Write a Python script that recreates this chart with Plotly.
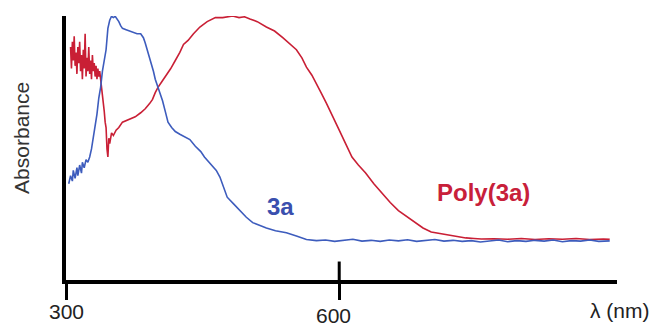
import plotly.graph_objects as go

# ---- data ----
wl_3a = [303, 305, 307, 308, 310, 312, 313, 315, 317, 318, 320, 322, 324, 326, 328, 330,
         332, 334, 336, 338, 340, 342, 344, 346, 348, 350, 352, 354, 356, 358, 360, 362,
         366, 370, 374, 378, 382, 385, 387, 390, 393, 396, 398, 402, 406, 409, 412, 416,
         420, 425, 430, 436, 442, 448, 452, 456, 460, 465, 469, 473, 477, 484, 491, 498,
         505, 512, 520, 530, 542, 553, 564, 575, 585, 595, 605, 615, 625, 635, 645, 655,
         665, 675, 685, 695, 705, 715, 725, 735, 745, 755, 765, 775, 785, 795, 805, 815,
         825, 835, 845, 855, 865, 875, 885, 897]
abs_3a = [0.37, 0.40, 0.38, 0.42, 0.39, 0.43, 0.40, 0.44, 0.41, 0.45, 0.43, 0.46, 0.45, 0.47, 0.50, 0.54,
          0.58, 0.63, 0.69, 0.73, 0.79, 0.84, 0.87, 0.95, 0.98, 0.995, 0.99, 0.995, 0.985, 0.975, 0.96, 0.95,
          0.945, 0.94, 0.935, 0.93, 0.93, 0.915, 0.895, 0.86, 0.83, 0.79, 0.76, 0.72, 0.68, 0.64, 0.60, 0.58,
          0.565, 0.555, 0.545, 0.535, 0.51, 0.49, 0.47, 0.455, 0.44, 0.42, 0.395, 0.36, 0.32, 0.295, 0.27, 0.245,
          0.225, 0.215, 0.205, 0.195, 0.187, 0.175, 0.162, 0.158, 0.160, 0.155, 0.158, 0.163, 0.156, 0.159, 0.155, 0.160,
          0.157, 0.161, 0.155, 0.158, 0.162, 0.156, 0.159, 0.155, 0.158, 0.153, 0.157, 0.160, 0.154, 0.158, 0.155, 0.159,
          0.156, 0.160, 0.154, 0.158, 0.156, 0.160, 0.155, 0.157]

wl_poly = [305, 306, 307, 308, 309, 310, 311, 312, 313, 314, 315, 316, 317, 318, 319, 320,
           321, 322, 323, 324, 325, 326, 327, 328, 329, 330, 331, 332, 333, 334, 335, 336,
           337, 338, 339, 340, 341, 342, 343, 344, 345, 346, 347, 348, 350, 352, 355, 358,
           362, 366, 370, 376, 382, 387, 392, 395, 398, 401, 405, 409, 415, 420, 425, 429,
           434, 440, 447, 455, 464, 472, 478, 483, 490, 496, 502, 510, 520, 529, 538, 546,
           553, 559, 564, 570, 575, 580, 586, 592, 600, 607, 614, 621, 629, 638, 647, 656,
           665, 675, 684, 692, 701, 710, 720, 729, 739, 748, 756, 770, 785, 800, 815, 830,
           845, 860, 875, 890, 897]
abs_poly = [0.88, 0.80, 0.90, 0.83, 0.92, 0.81, 0.86, 0.78, 0.88, 0.82, 0.90, 0.79, 0.85, 0.76, 0.87, 0.80,
            0.93, 0.77, 0.84, 0.79, 0.88, 0.78, 0.83, 0.76, 0.85, 0.79, 0.82, 0.77, 0.81, 0.76, 0.80, 0.77,
            0.79, 0.76, 0.74, 0.72, 0.68, 0.64, 0.60, 0.58, 0.50, 0.47, 0.54, 0.52, 0.56, 0.55, 0.57, 0.58,
            0.60, 0.605, 0.61, 0.62, 0.635, 0.65, 0.67, 0.685, 0.71, 0.73, 0.75, 0.77, 0.80, 0.83, 0.86, 0.89,
            0.905, 0.93, 0.955, 0.975, 0.99, 0.99, 0.993, 0.996, 0.99, 0.993, 0.985, 0.975, 0.955, 0.94, 0.915, 0.89,
            0.87, 0.84, 0.805, 0.775, 0.745, 0.71, 0.67, 0.625, 0.57, 0.52, 0.47, 0.44, 0.41, 0.37, 0.335, 0.30,
            0.27, 0.245, 0.225, 0.205, 0.19, 0.185, 0.178, 0.172, 0.168, 0.166, 0.164, 0.165, 0.163, 0.166, 0.162, 0.165,
            0.163, 0.166, 0.162, 0.164, 0.163]

tick_vals = [300, 600]
tick_text = ["300", "600"]
# small per-label nudges (pixels) seen in the reference
tick_xshift = [0, -6]
tick_yshift = [0, -4]

BLUE = "#3d5cbd"
RED = "#c91f35"
FONT = "Liberation Sans, Arial, sans-serif"
TXT = "#222222"

fig = go.Figure()
fig.add_trace(go.Scatter(x=wl_poly, y=abs_poly, mode="lines",
                         line=dict(color=RED, width=1.6), name="Poly(3a)"))
fig.add_trace(go.Scatter(x=wl_3a, y=abs_3a, mode="lines",
                         line=dict(color=BLUE, width=1.6), name="3a"))

annotations = [
    dict(text="Absorbance", xref="paper", yref="paper", x=-0.080, y=0.538,
         textangle=-90, showarrow=False, xanchor="center", yanchor="middle",
         font=dict(size=21, color="#333333", family=FONT)),
    dict(text="λ (nm)", xref="paper", yref="paper", x=1.064, y=-0.117,
         showarrow=False, xanchor="right", yanchor="middle",
         font=dict(size=21, color=TXT, family=FONT)),
    dict(text="<b>3a</b>", xref="x", yref="y", x=535, y=0.284,
         showarrow=False, xanchor="center", yanchor="middle",
         font=dict(size=24, color="#3a4fae", family=FONT)),
    dict(text="<b>Poly(3a)</b>", xref="x", yref="y", x=758, y=0.336,
         showarrow=False, xanchor="center", yanchor="middle",
         font=dict(size=24, color="#c8203a", family=FONT)),
]
for v, t, dx, dy in zip(tick_vals, tick_text, tick_xshift, tick_yshift):
    annotations.append(dict(text=t, xref="x", yref="paper", x=v, y=-0.119,
                            xshift=dx, yshift=dy, showarrow=False,
                            xanchor="center", yanchor="middle",
                            font=dict(size=21, color=TXT, family=FONT)))

fig.update_layout(
    width=652, height=327,
    margin=dict(l=66, r=35, t=16, b=47),
    paper_bgcolor="white", plot_bgcolor="white",
    showlegend=False,
    font=dict(family=FONT, color=TXT),
    xaxis=dict(range=[300, 905], showgrid=False, zeroline=False, automargin=False,
               showline=True, linecolor="black", linewidth=4,
               ticks="outside", ticklen=16, tickwidth=3, tickcolor="black",
               tickvals=tick_vals, showticklabels=False),
    yaxis=dict(range=[0.011, 0.996], showgrid=False, zeroline=False, automargin=False,
               showline=True, linecolor="black", linewidth=4,
               showticklabels=False, ticks=""),
    shapes=[dict(type="line", xref="x", yref="paper", x0=600, x1=600, y0=0, y1=0.07,
                 line=dict(color="black", width=3))],
    annotations=annotations,
)

fig.write_html("out.html", config={"displayModeBar": False},
               post_script="document.body.style.margin='0';document.body.style.padding='0';")
